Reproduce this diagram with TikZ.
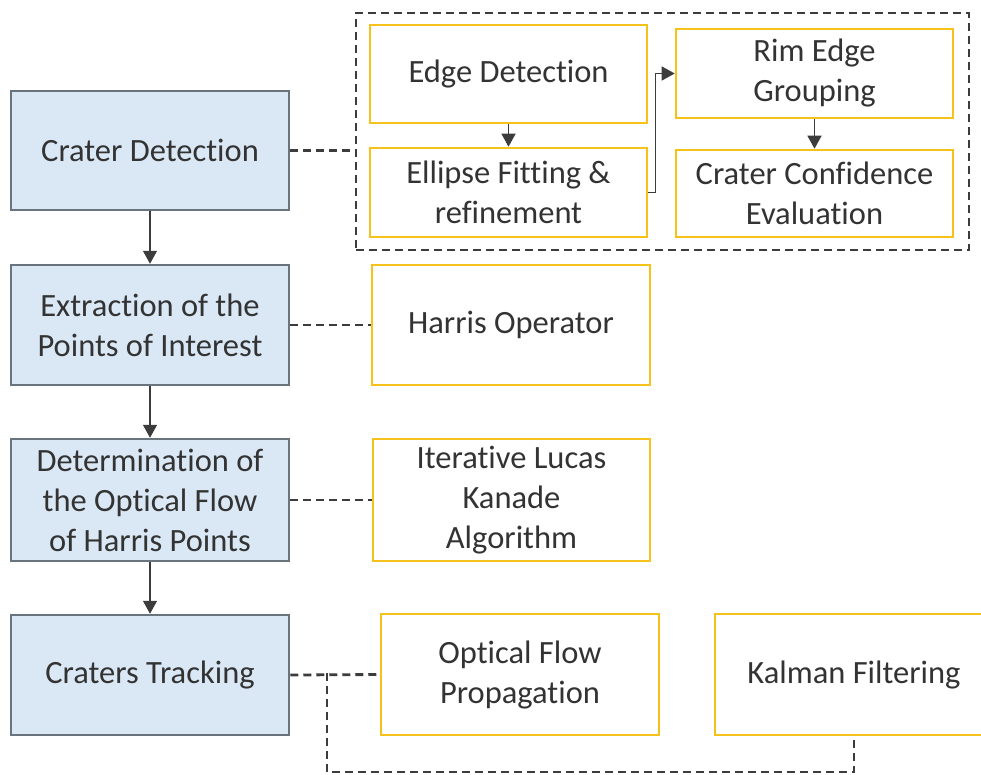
\documentclass[tikz,border=0pt]{standalone}
\usepackage{fontspec}
\setmainfont{Carlito}[RawFeature={-liga;-dlig;-clig}]
\usetikzlibrary{arrows.meta}
\definecolor{bfill}{HTML}{DAE8F5}
\definecolor{bdraw}{HTML}{6A747E}
\definecolor{ydraw}{HTML}{F5C21B}
\definecolor{txt}{HTML}{333333}
\definecolor{lcol}{HTML}{3C3C3C}
\tikzset{
  base/.style={rectangle, align=center, text=txt, font=\fontsize{32.5}{40}\selectfont, inner sep=0pt},
  lbox/.style={base, fill=bfill, draw=bdraw, line width=2.5pt},
  ybox/.style={base, fill=white, draw=ydraw, line width=2.6pt},
  dl/.style={draw=lcol, line width=2.8pt, dash pattern=on 8pt off 5pt},
  arr/.style={draw=lcol, line width=1.4pt, -{Triangle[length=13pt,width=14pt]}},
}
\begin{document}
\begin{tikzpicture}[x=1pt,y=-1pt]
\useasboundingbox (0,0) rectangle (981,774);
% group box
\node[dl, rectangle, minimum width=613pt, minimum height=237pt, inner sep=0pt] (grp) at (662.5,131.5) {};
% left column
\node[lbox, minimum width=278pt, minimum height=119pt] (cd) at (150,150.5) {Crater Detection};
\node[lbox, minimum width=278pt, minimum height=120pt] (ex) at (150,325) {Extraction of the\\Points of Interest};
\node[lbox, minimum width=278pt, minimum height=122pt] (det) at (150,500) {Determination of\\the Optical Flow\\of Harris Points};
\node[lbox, minimum width=278pt, minimum height=120pt] (ct) at (150,675) {Craters Tracking};
% group contents
\node[ybox, minimum width=277pt, minimum height=98pt] (ed) at (508.5,74) {Edge Detection};
\node[ybox, minimum width=277pt, minimum height=89pt] (ef) at (508.5,192.5) {Ellipse Fitting \&\\refinement};
\node[ybox, minimum width=277pt, minimum height=89pt] (rim) at (814.5,73.5) {Rim Edge\\Grouping};
\node[ybox, minimum width=277pt, minimum height=87pt] (cc) at (814.5,193.5) {Crater Confidence\\Evaluation};
% right column
\node[ybox, minimum width=278pt, minimum height=120pt] (har) at (511,325) {Harris Operator};
\node[ybox, minimum width=277pt, minimum height=122pt] (ilk) at (511.5,500) {Iterative Lucas\\Kanade\\Algorithm};
\node[ybox, minimum width=278pt, minimum height=121pt] (ofp) at (520,674.5) {Optical Flow\\Propagation};
\node[ybox, minimum width=278pt, minimum height=121pt] (kf) at (854,674.5) {Kalman Filtering};
% arrows
\draw[arr] (cd.south) -- (ex.north);
\draw[arr] (ex.south) -- (det.north);
\draw[arr] (det.south) -- (ct.north);
\draw[arr] (ed.south) -- (ef.north);
\draw[arr] (rim.south) -- (cc.north);
\draw[arr] (ef.east) -- ++(7,0) |- (rim.west);
% dashed connectors
\draw[dl] (cd.east) -- (cd.east -| grp.west);
\draw[dl] (ex.east) -- (har.west);
\draw[dl] (det.east) -- (ilk.west);
\draw[dl] (ct.east) -- (ofp.west);
\coordinate (br) at (327,673);
\draw[dl] (br) -- ++(0,99) -| (kf.south);
\end{tikzpicture}
\end{document}
